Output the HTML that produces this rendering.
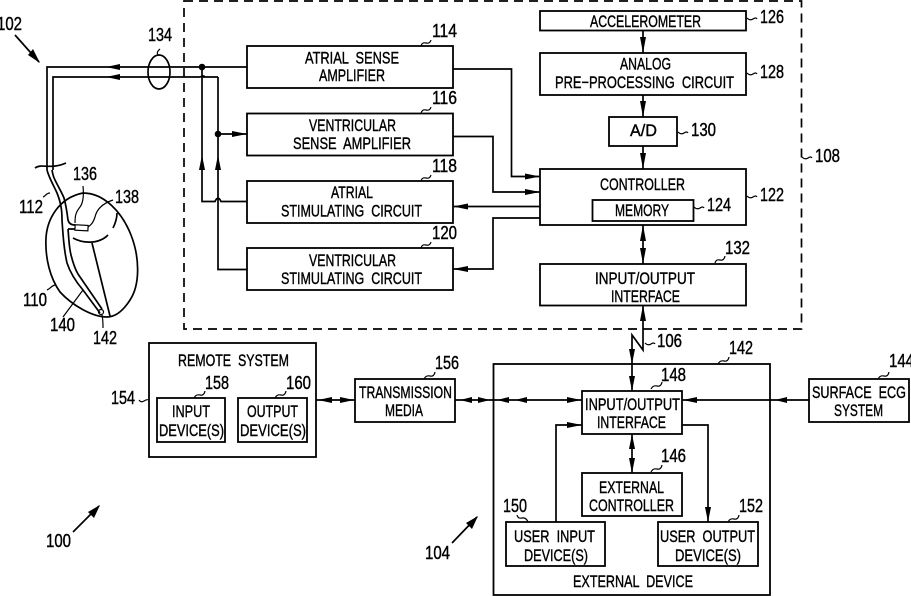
<!DOCTYPE html>
<html><head><meta charset="utf-8"><style>
html,body{margin:0;padding:0;background:#fff}
svg{display:block}
text{font-family:"Liberation Sans",sans-serif;font-size:17px;fill:#000;stroke:#000;stroke-width:.4;white-space:pre}
text.n{font-size:18px}
.b{fill:none;stroke:#000;stroke-width:1.8}
.l{fill:none;stroke:#000;stroke-width:1.7}
.t{fill:none;stroke:#000;stroke-width:1.2}
</style></head><body>
<svg width="911" height="596" viewBox="0 0 911 596" xmlns="http://www.w3.org/2000/svg">
<rect x="184" y="1" width="617.5" height="328" fill="none" stroke="#000" stroke-width="1.7" stroke-dasharray="9 6"/>

<!-- boxes -->
<rect class="b" x="247" y="46" width="206" height="42"/>
<rect class="b" x="247" y="113.5" width="206" height="42"/>
<rect class="b" x="247" y="181" width="206" height="42"/>
<rect class="b" x="247" y="248" width="206" height="42"/>
<rect class="b" x="540" y="11" width="206" height="19.5"/>
<rect class="b" x="540" y="53" width="206" height="42"/>
<rect class="b" x="609" y="117" width="68" height="29"/>
<rect class="b" x="540" y="169" width="206" height="56"/>
<rect class="b" x="592.500" y="200" width="101" height="21"/>
<rect class="b" x="540" y="264" width="206" height="41.500"/>
<rect class="b" x="149" y="343" width="167" height="114"/>
<rect class="b" x="157" y="398" width="68" height="44"/>
<rect class="b" x="238" y="398" width="69" height="44"/>
<rect class="b" x="355" y="379" width="100" height="43"/>
<rect class="b" x="493.500" y="364" width="276.500" height="231"/>
<rect class="b" x="582" y="391" width="100" height="43"/>
<rect class="b" x="582" y="473" width="100" height="43"/>
<rect class="b" x="506" y="522" width="99" height="44"/>
<rect class="b" x="658" y="522" width="100" height="44"/>
<rect class="b" x="809" y="379" width="100" height="43"/>

<!-- lead and atrial/ventricular wiring -->
<path class="l" d="M47 170V67H247"/>
<path class="l" d="M53 170V77H200Q205 75 204 77H218"/>
<path class="l" d="M202 67V201.500H215Q218 195 221 201.500H247"/>
<path class="l" d="M218 77V269.500H247"/>
<path class="l" d="M218 134H247"/>
<circle cx="202" cy="67" r="3.300"/>
<circle cx="218" cy="134" r="3.300"/>
<path d="M106 67L120 64V70ZM106 77L120 74V80Z"/>
<path d="M202 155L205 170H199ZM218 155L221 170H215Z"/>
<path d="M247 134L232 131V137Z"/>
<ellipse class="l" cx="159" cy="72" rx="11" ry="17"/>

<!-- sense / stim wires -->
<path class="l" d="M453 69H511.500V176.500H540"/>
<path class="l" d="M453 136.500H493V192H540"/>
<path class="l" d="M540 206.500H453"/>
<path class="l" d="M540 218H493V269H453"/>
<path d="M540 176.500L525 173.500V179.500ZM540 192L525 189V195ZM453 206.500L468 203.500V209.500ZM453 269L468 266V272Z"/>

<!-- right column vertical -->
<path class="l" d="M643 30V53M643 95V117M643 146V169M643 225V264M643 305V350L632 335V391"/>
<path d="M643 53L640 37H646ZM643 117L640 101H646ZM643 169L640 153H646ZM643 225L640 241H646ZM643 264L640 248H646ZM643 305L640 321H646Z"/>
<path d="M632 364L629 349H635ZM632 391L629 376H635Z"/>

<!-- horizontal lower wires -->
<path class="l" d="M316 400H355M455 400H582M682 400H809"/>
<path d="M318 400L332 397V403ZM354 400L340 397V403ZM460 400L472 397V403ZM490 400L478 397V403ZM497 400L509 397V403ZM515 400L527 397V403ZM581 400L567 397V403ZM683 400L697 397V403ZM775 400L787 397V403Z"/>
<path class="l" d="M556 522V425H582"/>
<path d="M582 425L567 422V428Z"/>
<path class="l" d="M682 425H708V522"/>
<path d="M708 522L705 507H711Z"/>
<path class="l" d="M632 434V473"/>
<path d="M632 434L629 449H635ZM632 473L629 458H635Z"/>

<!-- big arrows -->
<path class="l" d="M15 35L39 62"/><path d="M40 63L28 55L33 49Z"/>
<path class="l" d="M73 532L99 506"/><path d="M100 505L94 518L88 512Z"/>
<path class="l" d="M452 543L477 517"/><path d="M478 516L472 529L466 523Z"/>

<!-- heart -->
<path class="l" d="M83 193C104 193 122 212 131 235C140 258 140 285 130 300C123 311 115 317 107 317C92 317 72 305 60 292C50 278 45 258 46 238C47 220 58 198 83 193Z"/>
<path class="l" d="M47 170C49 178 55 188 57 193C61 203 62 210 62 220C63 235 64 250 67 263C71 275 77 283 83 290L100 313"/>
<path class="l" d="M52 170C53 176 54 178 56 182C59 188 62 193 64 198C66 205 67 212 68 220C69 224 72 225 75 225"/>
<path class="l" d="M68 229L75 229M68 229C69 240 69 247 71 255C73 263 75 269 78 274L102 309"/>
<rect class="t" x="75" y="225" width="13" height="5.500" transform="rotate(3 80 228)"/>
<circle class="t" cx="101" cy="312" r="2.500"/>
<path class="l" d="M73 238C82 243 98 245 108 235"/>
<path class="l" d="M92 243L110 316"/>
<path class="l" d="M117 213C117 219 115 224 113 228"/>

<!-- leader squiggles -->
<path class="l" d="M35 168C42 163 50 170 66 163"/>
<path class="t" d="M158 55Q156 52 160 49"/>
<path class="t" d="M83 186C84 196 83 203 80 207C76 212 75 215 75 223"/>
<path class="t" d="M113 200C104 203 97 208 95 217C93 223 91 225 88 227"/>
<path class="t" d="M43 197C46 196 46 193 50 193"/>
<path class="t" d="M47 290C50 289 51 286 55 285"/>
<path class="t" d="M63 317L83 290"/>
<path class="t" d="M102 315C103 319 103 324 103 328"/>
<path class="t" d="M421 46Q422 42 426 43T431 40M421 113.500Q422 109 426 110T431 107M421 181Q422 177 426 178T431 175M421 248Q422 244 426 245T431 242"/>
<path class="t" d="M747 18Q750 21 753 19T757 19M747 73Q750 76 753 74T757 74M678 132Q681 135 684 133T688 133M747 196Q750 199 753 197T757 197M694 207Q697 210 700 208T704 208M802 157Q805 160 808 158T812 158"/>
<path class="t" d="M715 263Q716 259 720 260T725 256"/>
<path class="t" d="M645 343Q648 346 651 344T655 344"/>
<path class="t" d="M718 364Q720 360 724 361T729 357"/>
<path class="t" d="M878 379Q880 375 884 376T889 372"/>
<path class="t" d="M651 389Q653 385 657 386T662 382"/>
<path class="t" d="M651 472Q653 468 657 469T662 465"/>
<path class="t" d="M528 522Q526 517 522 518T517 515"/>
<path class="t" d="M728 522Q730 518 734 519T739 515"/>
<path class="t" d="M139 400Q141 403 144 401T148 400"/>
<path class="t" d="M194 398Q196 394 200 395T205 391M275 398Q277 394 281 395T286 391"/>
<path class="t" d="M424 379Q426 375 430 376T435 372"/>

<!-- box labels -->
<text x="305" y="63.500" textLength="94" lengthAdjust="spacingAndGlyphs">ATRIAL  SENSE</text>
<text x="319" y="81" textLength="66" lengthAdjust="spacingAndGlyphs">AMPLIFIER</text>
<text x="309" y="131" textLength="87" lengthAdjust="spacingAndGlyphs">VENTRICULAR</text>
<text x="293" y="149" textLength="118" lengthAdjust="spacingAndGlyphs">SENSE  AMPLIFIER</text>
<text x="331" y="198" textLength="42" lengthAdjust="spacingAndGlyphs">ATRIAL</text>
<text x="281" y="216.500" textLength="141" lengthAdjust="spacingAndGlyphs">STIMULATING  CIRCUIT</text>
<text x="309" y="266" textLength="87" lengthAdjust="spacingAndGlyphs">VENTRICULAR</text>
<text x="281" y="284" textLength="141" lengthAdjust="spacingAndGlyphs">STIMULATING  CIRCUIT</text>
<text x="590" y="27" textLength="111" lengthAdjust="spacingAndGlyphs">ACCELEROMETER</text>
<text x="620" y="69.500" textLength="51" lengthAdjust="spacingAndGlyphs">ANALOG</text>
<text x="555" y="88" textLength="179" lengthAdjust="spacingAndGlyphs">PRE−PROCESSING  CIRCUIT</text>
<text x="630" y="136" textLength="27" lengthAdjust="spacingAndGlyphs">A/D</text>
<text x="600" y="190" textLength="85" lengthAdjust="spacingAndGlyphs">CONTROLLER</text>
<text x="615" y="216" textLength="54" lengthAdjust="spacingAndGlyphs">MEMORY</text>
<text x="595" y="284" textLength="100" lengthAdjust="spacingAndGlyphs">INPUT/OUTPUT</text>
<text x="611" y="302" textLength="69" lengthAdjust="spacingAndGlyphs">INTERFACE</text>
<text x="178" y="366" textLength="111" lengthAdjust="spacingAndGlyphs">REMOTE  SYSTEM</text>
<text x="172" y="417" textLength="38" lengthAdjust="spacingAndGlyphs">INPUT</text>
<text x="159" y="436" textLength="65" lengthAdjust="spacingAndGlyphs">DEVICE(S)</text>
<text x="247" y="417" textLength="51" lengthAdjust="spacingAndGlyphs">OUTPUT</text>
<text x="240" y="436" textLength="66" lengthAdjust="spacingAndGlyphs">DEVICE(S)</text>
<text x="359" y="398" textLength="93" lengthAdjust="spacingAndGlyphs">TRANSMISSION</text>
<text x="385" y="416" textLength="38" lengthAdjust="spacingAndGlyphs">MEDIA</text>
<text x="585" y="410" textLength="95" lengthAdjust="spacingAndGlyphs">INPUT/OUTPUT</text>
<text x="597" y="428" textLength="69" lengthAdjust="spacingAndGlyphs">INTERFACE</text>
<text x="599" y="493" textLength="65" lengthAdjust="spacingAndGlyphs">EXTERNAL</text>
<text x="589" y="511" textLength="85" lengthAdjust="spacingAndGlyphs">CONTROLLER</text>
<text x="514" y="542" textLength="81" lengthAdjust="spacingAndGlyphs">USER  INPUT</text>
<text x="524" y="561" textLength="64" lengthAdjust="spacingAndGlyphs">DEVICE(S)</text>
<text x="660" y="542" textLength="95" lengthAdjust="spacingAndGlyphs">USER  OUTPUT</text>
<text x="675" y="561" textLength="66" lengthAdjust="spacingAndGlyphs">DEVICE(S)</text>
<text x="573" y="587" textLength="120" lengthAdjust="spacingAndGlyphs">EXTERNAL  DEVICE</text>
<text x="812" y="398" textLength="94" lengthAdjust="spacingAndGlyphs">SURFACE  ECG</text>
<text x="834" y="416" textLength="49" lengthAdjust="spacingAndGlyphs">SYSTEM</text>

<!-- numbers -->
<text class="n" x="432" y="37" textLength="25" lengthAdjust="spacingAndGlyphs">114</text>
<text class="n" x="432" y="104" textLength="25" lengthAdjust="spacingAndGlyphs">116</text>
<text class="n" x="432" y="172" textLength="25" lengthAdjust="spacingAndGlyphs">118</text>
<text class="n" x="432" y="239" textLength="25" lengthAdjust="spacingAndGlyphs">120</text>
<text class="n" x="760" y="23" textLength="24" lengthAdjust="spacingAndGlyphs">126</text>
<text class="n" x="760" y="78" textLength="24" lengthAdjust="spacingAndGlyphs">128</text>
<text class="n" x="691" y="136" textLength="25" lengthAdjust="spacingAndGlyphs">130</text>
<text class="n" x="815" y="162" textLength="25" lengthAdjust="spacingAndGlyphs">108</text>
<text class="n" x="760" y="201" textLength="24" lengthAdjust="spacingAndGlyphs">122</text>
<text class="n" x="707" y="211" textLength="24" lengthAdjust="spacingAndGlyphs">124</text>
<text class="n" x="725" y="254" textLength="25" lengthAdjust="spacingAndGlyphs">132</text>
<text class="n" x="657" y="347" textLength="25" lengthAdjust="spacingAndGlyphs">106</text>
<text class="n" x="729" y="354" textLength="24" lengthAdjust="spacingAndGlyphs">142</text>
<text class="n" x="889" y="367" textLength="25" lengthAdjust="spacingAndGlyphs">144</text>
<text class="n" x="661" y="381" textLength="25" lengthAdjust="spacingAndGlyphs">148</text>
<text class="n" x="661" y="462" textLength="25" lengthAdjust="spacingAndGlyphs">146</text>
<text class="n" x="503" y="512" textLength="24" lengthAdjust="spacingAndGlyphs">150</text>
<text class="n" x="739" y="512" textLength="24" lengthAdjust="spacingAndGlyphs">152</text>
<text class="n" x="205" y="389" textLength="24" lengthAdjust="spacingAndGlyphs">158</text>
<text class="n" x="286" y="389" textLength="25" lengthAdjust="spacingAndGlyphs">160</text>
<text class="n" x="435" y="369" textLength="24" lengthAdjust="spacingAndGlyphs">156</text>
<text class="n" x="111" y="404" textLength="24" lengthAdjust="spacingAndGlyphs">154</text>
<text class="n" x="425" y="559" textLength="25" lengthAdjust="spacingAndGlyphs">104</text>
<text class="n" x="46" y="547" textLength="25" lengthAdjust="spacingAndGlyphs">100</text>
<text class="n" x="-3" y="30" textLength="25" lengthAdjust="spacingAndGlyphs">102</text>
<text class="n" x="148" y="41" textLength="24" lengthAdjust="spacingAndGlyphs">134</text>
<text class="n" x="73" y="180" textLength="24" lengthAdjust="spacingAndGlyphs">136</text>
<text class="n" x="115" y="203" textLength="24" lengthAdjust="spacingAndGlyphs">138</text>
<text class="n" x="19" y="213" textLength="24" lengthAdjust="spacingAndGlyphs">112</text>
<text class="n" x="23" y="306" textLength="24" lengthAdjust="spacingAndGlyphs">110</text>
<text class="n" x="50" y="331" textLength="25" lengthAdjust="spacingAndGlyphs">140</text>
<text class="n" x="93" y="344" textLength="24" lengthAdjust="spacingAndGlyphs">142</text>
</svg>
</body></html>
